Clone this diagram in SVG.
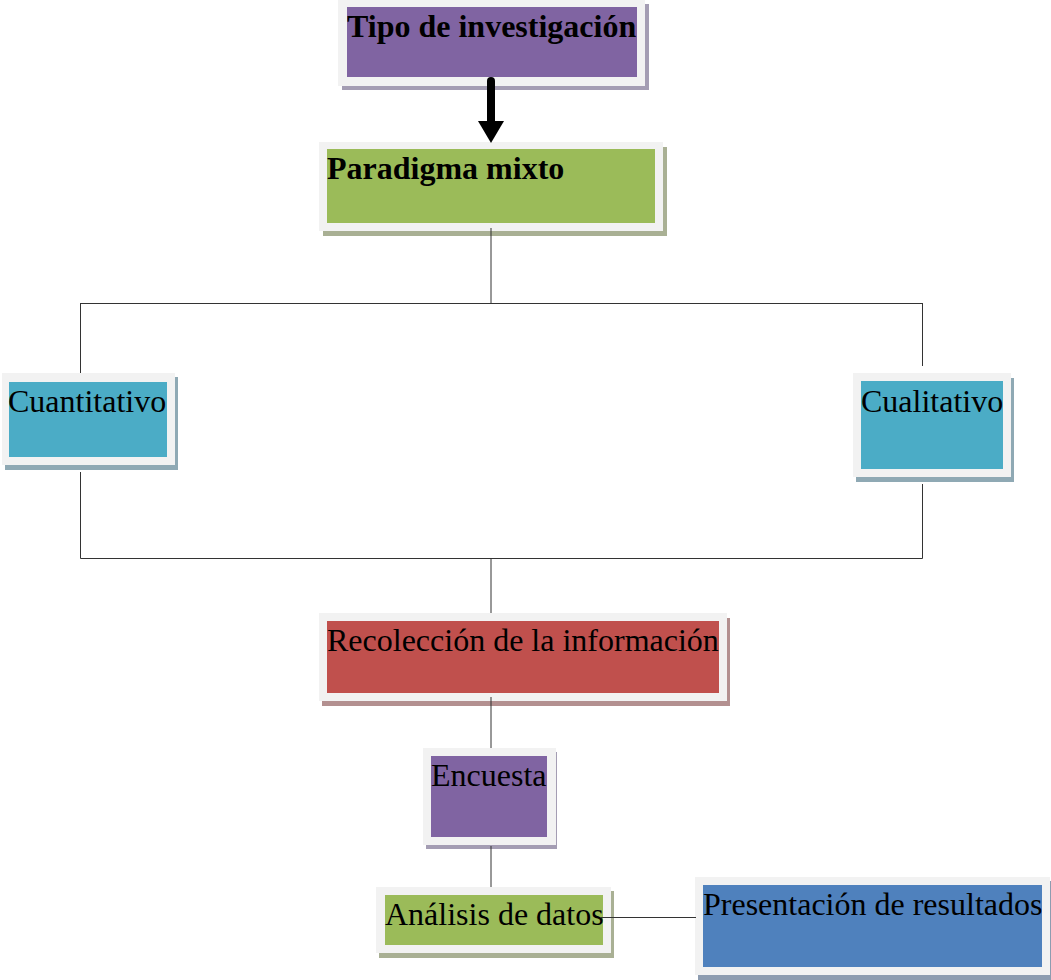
<svg xmlns="http://www.w3.org/2000/svg" width="1051" height="980" viewBox="0 0 1051 980">
<style>
.frame{fill:#F2F2F2}
.t{font-family:"Liberation Serif","Times New Roman",serif;font-size:32px;fill:#000}
.b{font-weight:bold}
.ln{stroke:#333;stroke-width:1;fill:none}
</style>
<rect width="1051" height="980" fill="#fff"/>
<g id="tipo">
<rect x="342" y="4" width="307" height="86" fill="#A49DB3"/>
<rect class="frame" x="338" y="0" width="307" height="86"/>
<rect x="347" y="7" width="290" height="70" fill="#8064A2"/>
<text class="t b" x="347" y="37">Tipo de investigación</text>
</g>
<g id="paradigma">
<rect x="323" y="147" width="344" height="89" fill="#A9B094"/>
<rect class="frame" x="319" y="142" width="344" height="89"/>
<rect x="327" y="149" width="328" height="74" fill="#9BBB59"/>
<text class="t b" x="327" y="179">Paradigma mixto</text>
</g>
<g id="cuantitativo">
<rect x="5" y="377" width="173" height="93" fill="#8FA9B4"/>
<rect class="frame" x="2" y="373" width="173" height="92"/>
<rect x="9" y="382" width="158" height="75" fill="#4BACC6"/>
<text class="t" x="8" y="412">Cuantitativo</text>
</g>
<g id="cualitativo">
<rect x="856" y="378" width="158" height="104" fill="#8FA9B4"/>
<rect class="frame" x="853" y="373" width="158" height="104"/>
<rect x="861" y="381" width="142" height="88" fill="#4BACC6"/>
<text class="t" x="861" y="412">Cualitativo</text>
</g>
<g id="recoleccion">
<rect x="322" y="618" width="408" height="88" fill="#B39090"/>
<rect class="frame" x="319" y="613" width="408" height="88"/>
<rect x="327" y="621" width="392" height="72" fill="#C0504D"/>
<text class="t" x="327" y="651">Recolección de la información</text>
</g>
<g id="encuesta">
<rect x="426" y="752" width="131" height="97" fill="#A49DB3"/>
<rect class="frame" x="423" y="748" width="133" height="97"/>
<rect x="431" y="756" width="116" height="81" fill="#8064A2"/>
<text class="t" x="431" y="786">Encuesta</text>
</g>
<g id="analisis">
<rect x="379" y="891" width="235" height="67" fill="#A9B094"/>
<rect class="frame" x="376" y="887" width="235" height="66"/>
<rect x="385" y="895" width="218" height="50" fill="#9BBB59"/>
<text class="t" x="385" y="925">Análisis de datos</text>
</g>
<g id="presentacion">
<rect x="698" y="881" width="353" height="99" fill="#8D9CB0"/>
<rect class="frame" x="695" y="877" width="355" height="98"/>
<rect x="703" y="885" width="339" height="82" fill="#4F81BD"/>
<text class="t" x="703" y="915">Presentación de resultados</text>
</g>
<g id="connectors">
<line class="ln" x1="491" y1="228" x2="491" y2="303"/>
<line class="ln" x1="80.5" y1="303.5" x2="922.5" y2="303.5"/>
<line class="ln" x1="80.5" y1="303" x2="80.5" y2="373"/>
<line class="ln" x1="922.5" y1="303" x2="922.5" y2="366"/>
<line class="ln" x1="80.5" y1="472" x2="80.5" y2="558.5"/>
<line class="ln" x1="922.5" y1="484" x2="922.5" y2="558.5"/>
<line class="ln" x1="80.5" y1="558.5" x2="922.5" y2="558.5"/>
<line class="ln" x1="491" y1="558" x2="491" y2="613"/>
<line class="ln" x1="491" y1="697" x2="491" y2="748"/>
<line class="ln" x1="491" y1="846" x2="491" y2="887"/>
<line class="ln" x1="600" y1="917.5" x2="696" y2="917.5"/>
<g id="arrow">
<line x1="491" y1="81" x2="491" y2="123" stroke="#000" stroke-width="8" stroke-linecap="round"/>
<polygon points="478,121 504,121 491,143" fill="#000"/>
</g>
</g>
</svg>
